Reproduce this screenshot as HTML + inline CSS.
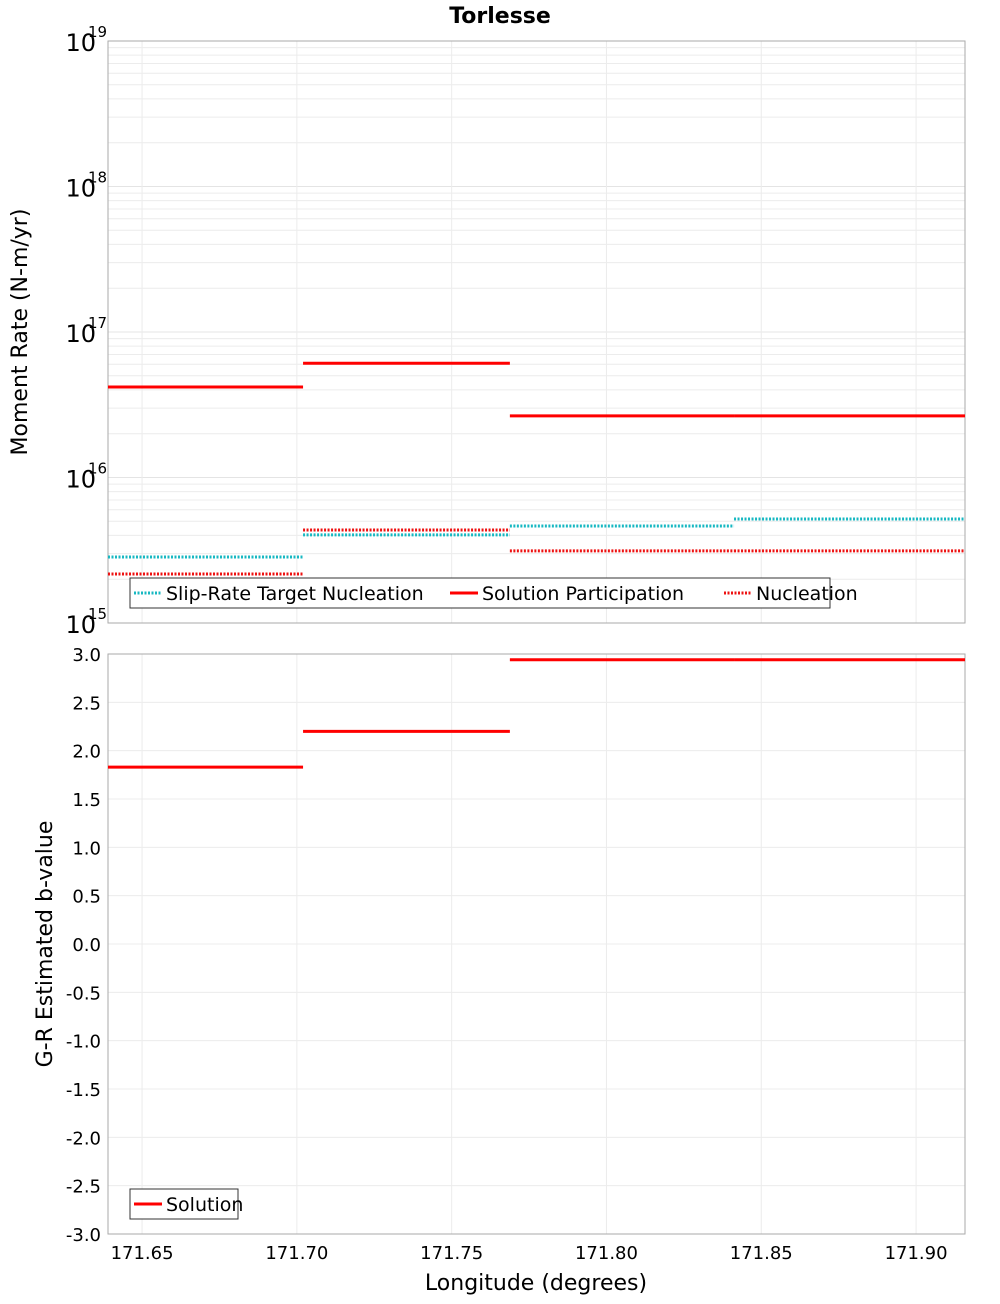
<!DOCTYPE html>
<html><head><meta charset="utf-8"><style>
body{margin:0;background:#fff;font-family:"DejaVu Sans","Liberation Sans",sans-serif;}
</style></head><body>
<svg id="chart" width="1000" height="1300" xmlns="http://www.w3.org/2000/svg" font-family="DejaVu Sans, Liberation Sans, sans-serif">
<text x="500" y="23" text-anchor="middle" font-size="22" font-weight="bold">Torlesse</text>
<g id="topPanel"></g><g id="botPanel"></g>
<text transform="translate(27,332) rotate(-90)" text-anchor="middle" font-size="22">Moment Rate (N-m/yr)</text>
<text transform="translate(52,944) rotate(-90)" text-anchor="middle" font-size="22">G-R Estimated b-value</text>
<text x="536" y="1290" text-anchor="middle" font-size="22">Longitude (degrees)</text>
</svg>
<script>
const segEdges=[171.639,171.702,171.7688,171.8412,171.9158];
const slipTarget=[2.84e15,4.03e15,4.64e15,5.19e15];
const solutionPart=[4.19e16,6.1e16,2.65e16,2.65e16];
const nucleation=[2.17e15,4.36e15,3.13e15,3.13e15];
const bValues=[1.83,2.20,2.94,2.94];
const xTicks=[171.65,171.70,171.75,171.80,171.85,171.90];
const xTickLabels=["171.65","171.70","171.75","171.80","171.85","171.90"];
const logDecades=[15,16,17,18,19];
const bTicks=[3,2.5,2,1.5,1,0.5,0,-0.5,-1,-1.5,-2,-2.5,-3];

const NS="http://www.w3.org/2000/svg";
const PL=108,PR=965,xMin=171.639,xMax=171.9158;
const T1=41,B1=623,T2=654,B2=1234;
const X=v=>PL+(v-xMin)/(xMax-xMin)*(PR-PL);
const YL=v=>B1-(Math.log10(v)-15)/4*(B1-T1);
const YB=v=>B2-(v+3)/6*(B2-T2);
function mk(p,tag,a){const e=document.createElementNS(NS,tag);for(const k in a)e.setAttribute(k,a[k]);p.appendChild(e);return e;}
const topG=document.getElementById('topPanel'),botG=document.getElementById('botPanel');

for(let d=15;d<19;d++)for(let m=2;m<=9;m++){const y=YL(m*Math.pow(10,d));
const g=mk(topG,'line',{x1:PL,x2:PR,y1:y,y2:y,stroke:'#ececec'});

}
logDecades.forEach(d=>{const y=YL(Math.pow(10,d));
const g=mk(topG,'line',{x1:PL,x2:PR,y1:y,y2:y,stroke:'#e4e4e4'});


const t=mk(topG,'text',{x:96,y:y+10,'text-anchor':'end','font-size':24});t.textContent='10';


const s=mk(topG,'text',{x:88,y:y-4,'font-size':15});s.textContent=String(d);

});
xTicks.forEach(v=>{[[T1,B1,topG],[T2,B2,botG]].forEach(([a,b,p])=>{const g=mk(p,'line',{x1:X(v),x2:X(v),y1:a,y2:b,stroke:'#ececec'});

});});
xTicks.forEach((v,i)=>{const t=mk(botG,'text',{x:X(v),y:1259,'text-anchor':'middle','font-size':18});t.textContent=xTickLabels[i];

});
bTicks.forEach(v=>{const y=YB(v);
const g=mk(botG,'line',{x1:PL,x2:PR,y1:y,y2:y,stroke:'#ececec'});


const t=mk(botG,'text',{x:101,y:y+7,'text-anchor':'end','font-size':18});t.textContent=v.toFixed(1);

});
[[T1,B1,topG],[T2,B2,botG]].forEach(([a,b,p])=>{const r=mk(p,'rect',{x:PL,y:a,width:PR-PL,height:b-a,fill:'none',stroke:'#aaa'});

});

function series(p,vals,Y,color,dash,name){vals.forEach((v,i)=>{const a={x1:X(segEdges[i]),x2:X(segEdges[i+1]),y1:Y(v),y2:Y(v),stroke:color,'stroke-width':3};
if(dash)a['stroke-dasharray']='2,1.5';const l=mk(p,'line',a);

});}
series(topG,slipTarget,YL,'#17b8c2',true,'slip-rate-target-segment');
series(topG,nucleation,YL,'#ee1111',true,'nucleation-segment');
series(topG,solutionPart,YL,'#ff0000',false,'solution-participation-segment');
series(botG,bValues,YB,'#ff0000',false,'b-value-segment');

function legend(p,x,y,w,items,name){const g=mk(p,'g',{});


mk(g,'rect',{x:x,y:y,width:w,height:30,fill:'#fff',stroke:'#333'});
let cx=x+4;items.forEach(([lab,col,dash,tw])=>{const a={x1:cx,x2:cx+28,y1:y+15,y2:y+15,stroke:col,'stroke-width':3};if(dash)a['stroke-dasharray']='2,1.5';mk(g,'line',a);
const t=mk(g,'text',{x:cx+32,y:y+22,'font-size':19});t.textContent=lab;

cx+=32+tw;});}
legend(topG,130,578,700,[["Slip-Rate Target Nucleation","#17b8c2",true,284],["Solution Participation","#ff0000",false,242],["Nucleation","#ee1111",true,110]],'top-legend');
legend(botG,130,1189,108,[["Solution","#ff0000",false,80]],'bottom-legend');
</script>
</body></html>
